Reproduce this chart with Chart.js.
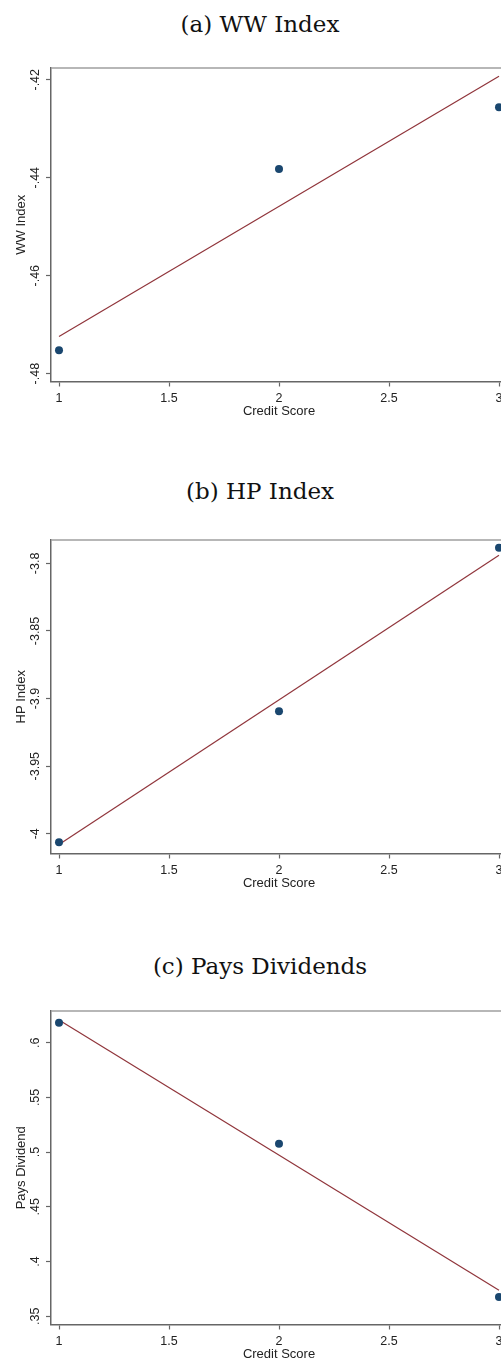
<!DOCTYPE html>
<html lang="en">
  <head>
    <meta charset="UTF-8" />
    <title>Credit Score Binscatters</title>
    <style>
      html, body {
        margin: 0;
        padding: 0;
        background: #fff;
        overflow: hidden;
      }
      #page {
        position: relative;
        width: 501px;
        height: 1362px;
        overflow: hidden;
      }
      .panel-title {
        position: absolute;
        left: 0;
        width: 520px;
        text-align: center;
        font-family: "DejaVu Serif", serif;
        font-size: 23px;
        line-height: 24px;
        height: 24px;
        color: #111;
        white-space: nowrap;
      }
      canvas {
        position: absolute;
        left: 0;
      }
    </style>
    <script src="https://cdn.jsdelivr.net/npm/chart.js"></script>
  </head>
  <body>
    <div id="page">
      <div class="panel-title" style="top: 12px">(a) WW Index</div>
      <canvas id="wwChart" width="520" height="366" style="top: 57.5px"></canvas>
      <div class="panel-title" style="top: 479px">(b) HP Index</div>
      <canvas id="hpChart" width="520" height="366" style="top: 530px"></canvas>
      <div class="panel-title" style="top: 954px">(c) Pays Dividends</div>
      <canvas id="divChart" width="520" height="366" style="top: 1001px"></canvas>
    </div>

    <script>
      // binned means by credit score
      const creditScore = [1, 2, 3];
      const wwIndex = [-0.4752, -0.4382, -0.4256];
      const hpIndex = [-4.0062, -3.9094, -3.7884];
      const paysDividend = [0.6183, 0.5076, 0.3676];

      // linear fit, evaluated at the ends of the range
      const fitX = [1, 3];
      const wwFit = [-0.4724, -0.4193];
      const hpFit = [-4.0079, -3.7939];
      const divFit = [0.6207, 0.3738];

      // axis ticks (Stata style labels)
      const xTicks = [1, 1.5, 2, 2.5, 3];
      const xTickLabels = ["1", "1.5", "2", "2.5", "3"];
      const wwTicks = [-0.48, -0.46, -0.44, -0.42];
      const wwTickLabels = ["-.48", "-.46", "-.44", "-.42"];
      const hpTicks = [-4, -3.95, -3.9, -3.85, -3.8];
      const hpTickLabels = ["-4", "-3.95", "-3.9", "-3.85", "-3.8"];
      const divTicks = [0.35, 0.4, 0.45, 0.5, 0.55, 0.6];
      const divTickLabels = [".35", ".4", ".45", ".5", ".55", ".6"];

      const NAVY = "#1a476f";
      const MAROON = "#90353b";
      const AXIS = "#666666";
      const TEXT = "#222222";
      const SANS = "'Liberation Sans', Arial, sans-serif";
      const TICK_SIZE = 12.5;

      // rotated y labels are centred via crossAlign, which shifts them by half
      // the widest (unrotated) label; undo that so they sit next to the ticks
      function yTickPadding(labels) {
        const ctx = document.createElement("canvas").getContext("2d");
        ctx.font = TICK_SIZE + "px " + SANS;
        const widest = Math.max(...labels.map((t) => ctx.measureText(t).width));
        return 10.5 - widest / 2;
      }

      // light outline on the top and right of the plot region
      const plotFrame = {
        id: "plotFrame",
        afterDraw(chart) {
          const { ctx, chartArea: a } = chart;
          ctx.save();
          ctx.strokeStyle = "#a0a0a0";
          ctx.lineWidth = 1.5;
          ctx.beginPath();
          ctx.moveTo(a.left, a.top);
          ctx.lineTo(a.right, a.top);
          ctx.lineTo(a.right, a.bottom);
          ctx.stroke();
          ctx.restore();
        },
      };

      function renderPanel(id, yLabel, values, fit, yMin, yMax, yTicks, yTickLabels) {
        const ctx = document.getElementById(id).getContext("2d");
        new Chart(ctx, {
          type: "scatter",
          data: {
            datasets: [
              {
                type: "line",
                data: fitX.map((x, i) => ({ x: x, y: fit[i] })),
                borderColor: MAROON,
                borderWidth: 1.2,
                pointRadius: 0,
                fill: false,
                order: 2,
              },
              {
                data: creditScore.map((x, i) => ({ x: x, y: values[i] })),
                backgroundColor: NAVY,
                borderColor: NAVY,
                borderWidth: 0,
                pointRadius: 4,
                order: 1,
              },
            ],
          },
          options: {
            responsive: false,
            animation: false,
            layout: { padding: { top: 10, right: 13, bottom: 4.5, left: 0 } },
            plugins: { legend: { display: false }, tooltip: { enabled: false } },
            scales: {
              x: {
                type: "linear",
                min: 1 - 8 / 220,
                max: 3 + 8 / 220,
                afterBuildTicks: (s) => { s.ticks = xTicks.map((v) => ({ value: v })); },
                afterFit: (s) => { s.height = 38; },
                ticks: {
                  callback: (v, i) => xTickLabels[i],
                  color: TEXT,
                  font: { family: SANS, size: TICK_SIZE },
                  padding: 5,
                  maxRotation: 0,
                },
                grid: { drawOnChartArea: false, tickLength: 5, tickColor: AXIS, tickWidth: 1.2 },
                border: { display: true, color: AXIS, width: 1.5 },
                title: {
                  display: true,
                  text: "Credit Score",
                  color: TEXT,
                  font: { family: SANS, size: 13 },
                  padding: { top: 0, bottom: 0 },
                },
              },
              y: {
                type: "linear",
                min: yMin,
                max: yMax,
                afterBuildTicks: (s) => { s.ticks = yTicks.map((v) => ({ value: v })); },
                afterFit: (s) => { s.width = 51; },
                ticks: {
                  callback: (v, i) => yTickLabels[i],
                  color: TEXT,
                  font: { family: SANS, size: TICK_SIZE },
                  minRotation: 90,
                  maxRotation: 90,
                  crossAlign: "center",
                  padding: yTickPadding(yTickLabels),
                },
                grid: { drawOnChartArea: false, tickLength: 5, tickColor: AXIS, tickWidth: 1.2 },
                border: { display: true, color: AXIS, width: 1.5 },
                title: {
                  display: true,
                  text: yLabel,
                  color: TEXT,
                  font: { family: SANS, size: 13 },
                  padding: { top: 13.7, bottom: 0 },
                },
              },
            },
          },
          plugins: [plotFrame],
        });
      }

      renderPanel("wwChart", "WW Index", wwIndex, wwFit, -0.4816, -0.4176, wwTicks, wwTickLabels);
      renderPanel("hpChart", "HP Index", hpIndex, hpFit, -4.0146, -3.7827, hpTicks, hpTickLabels);
      renderPanel("divChart", "Pays Dividend", paysDividend, divFit, 0.3424, 0.629, divTicks, divTickLabels);
    </script>
  </body>
</html>
